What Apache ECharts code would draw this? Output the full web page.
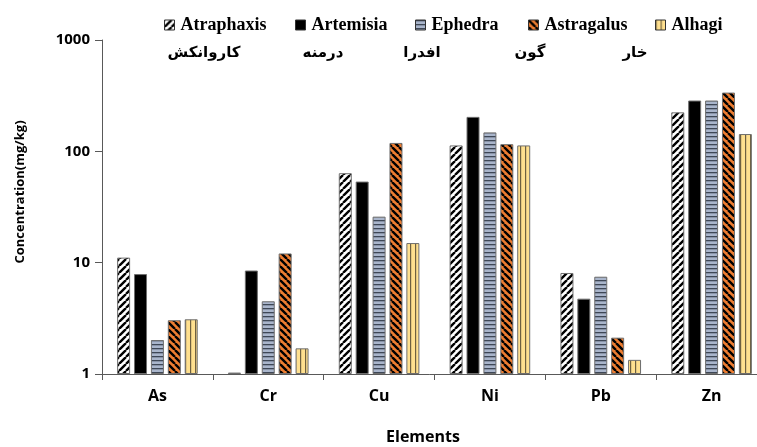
<!DOCTYPE html>
<html>
<head>
<meta charset="utf-8">
<script src="https://cdn.jsdelivr.net/npm/echarts@6/dist/echarts.min.js"></script>
<style>html,body{margin:0;padding:0;background:#fff}#c{width:757px;height:447px}</style>
</head>
<body>
<div id="c"></div>
<script>
const categories = ['As', 'Cr', 'Cu', 'Ni', 'Pb', 'Zn'];
const speciesNames = ['Atraphaxis', 'Artemisia', 'Ephedra', 'Astragalus', 'Alhagi'];
const persianNames = ['کاروانکش', 'درمنه', 'افدرا', 'گون', 'خار'];
const atraphaxis = [11.1, 1.03, 63.6, 113, 8.08, 224];
const artemisia = [7.9, 8.5, 53.5, 204, 4.75, 286];
const ephedra = [2.02, 4.5, 25.9, 148, 7.48, 286];
const astragalus = [3.04, 12.1, 119, 116, 2.12, 337];
const alhagi = [3.1, 1.7, 15.0, 113, 1.34, 143];
const yTicks = [1, 10, 100, 1000];

function tile(w, h, draw) {
  const c = document.createElement('canvas');
  c.width = w; c.height = h;
  const g = c.getContext('2d');
  draw(g, w, h);
  return { image: c, repeat: 'repeat' };
}
function diag(bg, fg, dir, n, lw) {
  return tile(n, n, (g, w, h) => {
    g.fillStyle = bg; g.fillRect(0, 0, w, h);
    g.strokeStyle = fg; g.lineWidth = lw;
    g.beginPath();
    for (let k = -1; k <= 1; k++) {
      if (dir > 0) { g.moveTo(k * w, h); g.lineTo(k * w + w, 0); }
      else { g.moveTo(k * w, 0); g.lineTo(k * w + w, h); }
    }
    g.stroke();
  });
}
const patAtr = diag('#ffffff', '#000000', 1, 7, 2.4);
const patAst = diag('#ed7d31', '#000000', -1, 7, 2.4);
const patEph = tile(4, 4, (g, w, h) => {
  g.fillStyle = '#a9b5cb'; g.fillRect(0, 0, w, h);
  g.fillStyle = '#3e4756'; g.fillRect(0, 0, w, 1.3);
});
const patAlh = tile(5, 5, (g, w, h) => {
  g.fillStyle = '#ffe08f'; g.fillRect(0, 0, w, h);
  g.fillStyle = '#6e6040'; g.fillRect(0, 0, 1.2, h);
});
const fills = [patAtr, '#000000', patEph, patAst, patAlh];
const values = [atraphaxis, artemisia, ephedra, astragalus, alhagi];
const legendLeft = [159, 290, 410, 523, 650];
const persianX = [204, 323, 422, 530, 635];

const chart = echarts.init(document.getElementById('c'), null, { renderer: 'canvas' });
chart.setOption({
  animation: false,
  backgroundColor: '#ffffff',
  grid: { left: 102, top: 40, right: -10, bottom: 73, containLabel: false, outerBoundsMode: 'none' },
  legend: speciesNames.map((n, i) => ({
    data: [n], left: legendLeft[i], top: 11, itemWidth: 10, itemHeight: 10, itemGap: 4,
    icon: 'rect',
    itemStyle: { borderColor: '#333', borderWidth: 1 },
    textStyle: { fontFamily: 'Liberation Serif', fontWeight: 'bold', fontSize: 18, color: '#000', padding: [0, 0, 0, 1] }
  })),
  xAxis: {
    type: 'category', data: categories,
    axisLine: { lineStyle: { color: '#595959', width: 1 } },
    axisTick: { show: true, length: 6, lineStyle: { color: '#595959' } },
    axisLabel: { fontFamily: 'Open Sans', fontWeight: 'bold', fontSize: 16, color: '#000', margin: 14 }
  },
  yAxis: {
    type: 'log', logBase: 10, min: 1, max: 1000,
    splitLine: { show: false },
    axisLine: { show: true, lineStyle: { color: '#595959', width: 1 } },
    axisTick: { show: true, length: 7, lineStyle: { color: '#595959' } },
    minorTick: { show: false },
    axisLabel: { fontFamily: 'Open Sans', fontWeight: 'bold', fontSize: 15, color: '#000', margin: 12,
      formatter: v => yTicks.includes(Math.round(v)) ? String(Math.round(v)) : '' }
  },
  graphic: [
    ...persianNames.map((t, i) => ({
      type: 'text', x: persianX[i], y: 53,
      style: { text: t, fontFamily: 'DejaVu Sans', fontWeight: 'bold', fontSize: 15, fill: '#000', align: 'center', verticalAlign: 'middle' }
    })),
    { type: 'text', x: 20, y: 192, rotation: Math.PI / 2,
      style: { text: 'Concentration(mg/kg)', fontFamily: 'Open Sans', fontWeight: 'bold', fontSize: 13, fill: '#000', align: 'center', verticalAlign: 'middle' } },
    { type: 'text', x: 423, y: 437,
      style: { text: 'Elements', fontFamily: 'Open Sans', fontWeight: 'bold', fontSize: 16, fill: '#000', align: 'center', verticalAlign: 'middle' } }
  ],
  series: speciesNames.map((n, i) => ({
    name: n, type: 'bar', data: values[i], barWidth: 13, barGap: '30%',
    itemStyle: { color: fills[i], borderColor: '#6f6f6f', borderWidth: 1 }
  }))
});
</script>
</body>
</html>
